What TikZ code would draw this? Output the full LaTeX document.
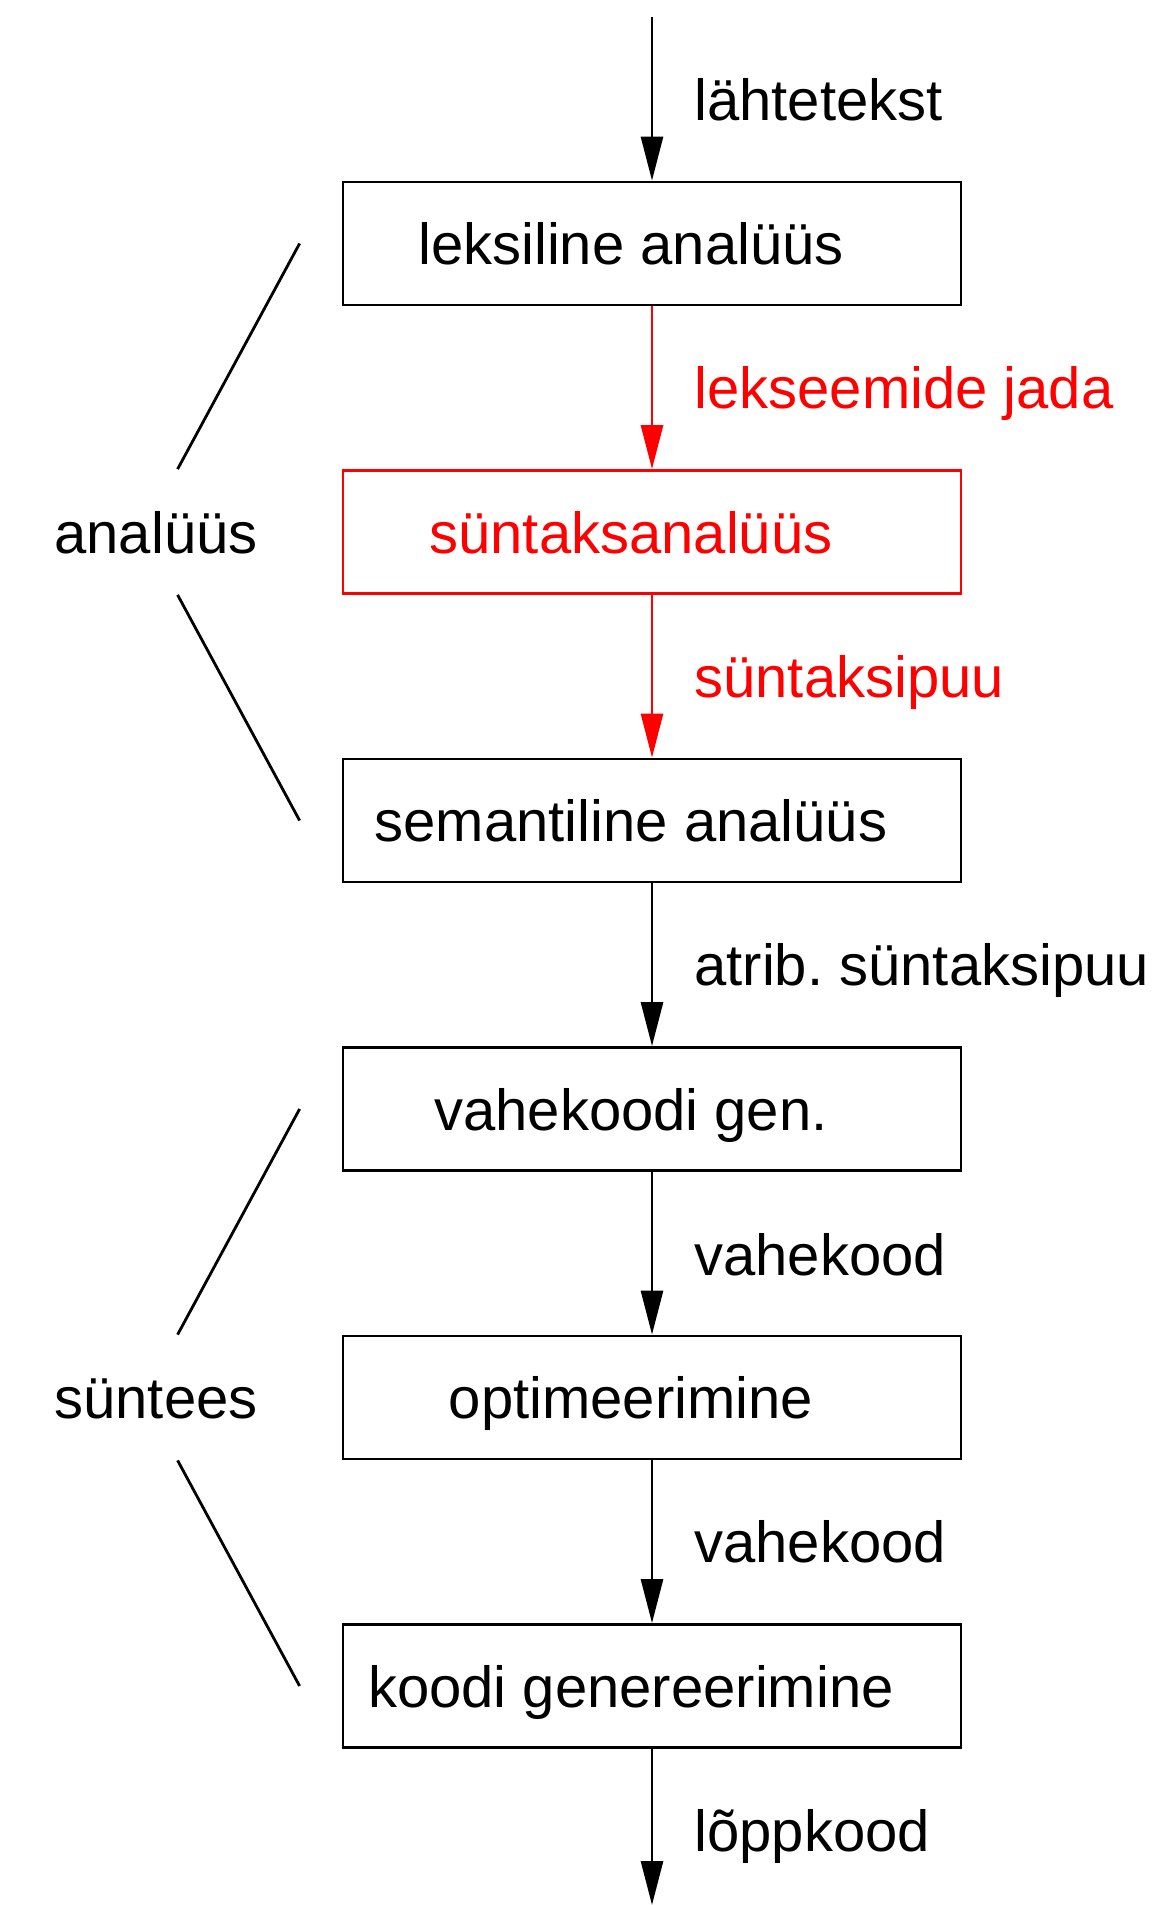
\documentclass[tikz,border=0pt]{standalone}
\usepackage{fontspec}
\setmainfont{Liberation Sans}
\usetikzlibrary{arrows.meta}

\definecolor{hl}{RGB}{255,0,0}
\newcommand{\boxtext}[1]{#1\hspace*{21pt}}

\begin{document}
\begin{tikzpicture}[x=0.5pt,y=0.5pt,yscale=-1,xscale=1,
  every node/.style={font=\fontsize{29pt}{35pt}\selectfont, text height=21pt, text depth=0pt},
  stage/.style={draw, line width=1.4pt, minimum width=309pt, minimum height=61.5pt, inner sep=0pt},
  lbl/.style={anchor=west, inner sep=0pt},
  flow/.style={line width=1.4pt, -{Triangle[length=22pt,width=11pt]}},
  brace/.style={line width=1.4pt}]
\useasboundingbox (0,0) rectangle (1158,1905);

% Boxes
\node[stage] (lex) at (652,243.5) {\boxtext{leksiline analüüs}};
\node[stage,hl] (syn) at (652,532) {\boxtext{süntaksanalüüs}};
\node[stage] (sem) at (652,820.5) {\boxtext{semantiline analüüs}};
\node[stage] (ir) at (652,1109) {\boxtext{vahekoodi gen.}};
\node[stage] (opt) at (652,1397.5) {\boxtext{optimeerimine}};
\node[stage] (gen) at (652,1686) {\boxtext{koodi genereerimine}};

\coordinate (src) at (652,17);
\coordinate (sink) at (652,1905);

% Arrows
\draw[flow] (src) -- (lex.north);
\draw[flow,hl] (lex.south) -- (syn.north);
\draw[flow,hl] (syn.south) -- (sem.north);
\draw[flow] (sem.south) -- (ir.north);
\draw[flow] (ir.south) -- (opt.north);
\draw[flow] (opt.south) -- (gen.north);
\draw[flow] (gen.south) -- (sink);

% Text Node
\node[lbl] (lsrc) at (694,99.5) {lähtetekst};
\node[lbl,hl] (llex) at (694,387.5) {lekseemide jada};
\node[lbl,hl] (lsyn) at (694,676.5) {süntaksipuu};
\node[lbl] (lsem) at (694,964.5) {atrib.\ süntaksipuu};
\node[lbl] (lir) at (694,1254) {vahekood};
\node[lbl] (lopt) at (694,1541.5) {vahekood};
\node[lbl] (lgen) at (694,1830) {lõppkood};

% Groups
\node (ana) at (156,532) {analüüs};
\node (synt) at (156,1397.5) {süntees};
\draw[brace] ([xshift=-21pt]lex.west) -- ([xshift=-82pt]syn.north west);
\draw[brace] ([xshift=-82pt]syn.south west) -- ([xshift=-21pt]sem.west);
\draw[brace] ([xshift=-21pt]ir.west) -- ([xshift=-82pt]opt.north west);
\draw[brace] ([xshift=-82pt]opt.south west) -- ([xshift=-21pt]gen.west);

\end{tikzpicture}
\end{document}
